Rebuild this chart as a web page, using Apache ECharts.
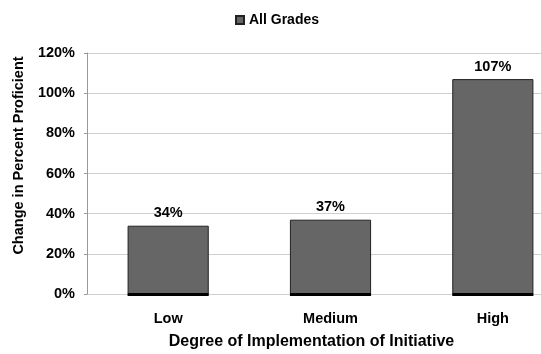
<!DOCTYPE html>
<html>
<head>
<meta charset="utf-8">
<script src="https://cdn.jsdelivr.net/npm/echarts@6/dist/echarts.min.js"></script>
<style>
  html, body { margin: 0; padding: 0; background: #fff; }
  #chart { width: 541px; height: 354px; }
</style>
</head>
<body>
<div id="chart"></div>
<script>
  // categories and values
  var categories = ['Low', 'Medium', 'High'];
  var allGrades = [34, 37, 107];
  var yTicks = [0, 20, 40, 60, 80, 100, 120];

  var font = '"Liberation Sans", Arial, sans-serif';
  var chart = echarts.init(document.getElementById('chart'));

  // black base strip under each bar (like the 3d floor of the original)
  function renderBase(params, api) {
    var p = api.coord([api.value(0), 0]);
    var w = api.size([1, 0])[0] * 0.5;
    return {
      type: 'rect',
      shape: { x: p[0] - w / 2, y: p[1] - 1, width: w, height: 3 },
      style: { fill: '#000' }
    };
  }

  var option = {
    animation: false,
    textStyle: { fontFamily: font },
    legend: {
      top: 8,
      left: 230,
      icon: 'rect',
      itemWidth: 8,
      itemHeight: 8,
      itemGap: 4,
      data: ['All Grades'],
      textStyle: { fontFamily: font, fontWeight: 'bold', fontSize: 14, color: '#000' }
    },
    grid: { left: 87, top: 53, width: 487, height: 241, outerBoundsMode: 'none' },
    xAxis: {
      type: 'category',
      data: categories,
      axisLine: { show: false },
      axisTick: { show: false },
      axisLabel: { margin: 17, fontFamily: font, fontWeight: 'bold', fontSize: 14.5, color: '#000' },
      name: 'Degree of Implementation of Initiative',
      nameLocation: 'middle',
      nameGap: 40,
      nameTextStyle: { fontFamily: font, fontWeight: 'bold', fontSize: 16, color: '#000', padding: [0, 38, 0, 0] }
    },
    yAxis: {
      type: 'value',
      min: yTicks[0],
      max: yTicks[yTicks.length - 1],
      interval: 20,
      axisLine: { show: true, lineStyle: { color: '#999' } },
      axisTick: { show: true, length: 3, lineStyle: { color: '#999' } },
      splitLine: { lineStyle: { color: '#d0d0d0' } },
      axisLabel: {
        margin: 12,
        fontFamily: font, fontWeight: 'bold', fontSize: 14.5, color: '#000',
        formatter: function (v) { return v + '%'; }
      },
      name: 'Change in Percent Proficient',
      nameLocation: 'middle',
      nameGap: 61,
      nameTextStyle: { fontFamily: font, fontWeight: 'bold', fontSize: 14.5, color: '#000', padding: [0, 0, 0, 36] }
    },
    series: [{
      name: 'All Grades',
      type: 'bar',
      data: allGrades,
      barWidth: '50%',
      itemStyle: {
        color: '#666666',
        borderColor: '#222',
        borderWidth: 1
      },
      label: {
        show: true,
        position: 'top',
        distance: 5,
        fontFamily: font, fontWeight: 'bold', fontSize: 14.5, color: '#000',
        formatter: function (p) { return p.value + '%'; }
      }
    }, {
      type: 'custom',
      renderItem: renderBase,
      data: allGrades.map(function (v, i) { return [i, v]; }),
      silent: true,
      z: 3
    }]
  };
  chart.setOption(option);
</script>
</body>
</html>
